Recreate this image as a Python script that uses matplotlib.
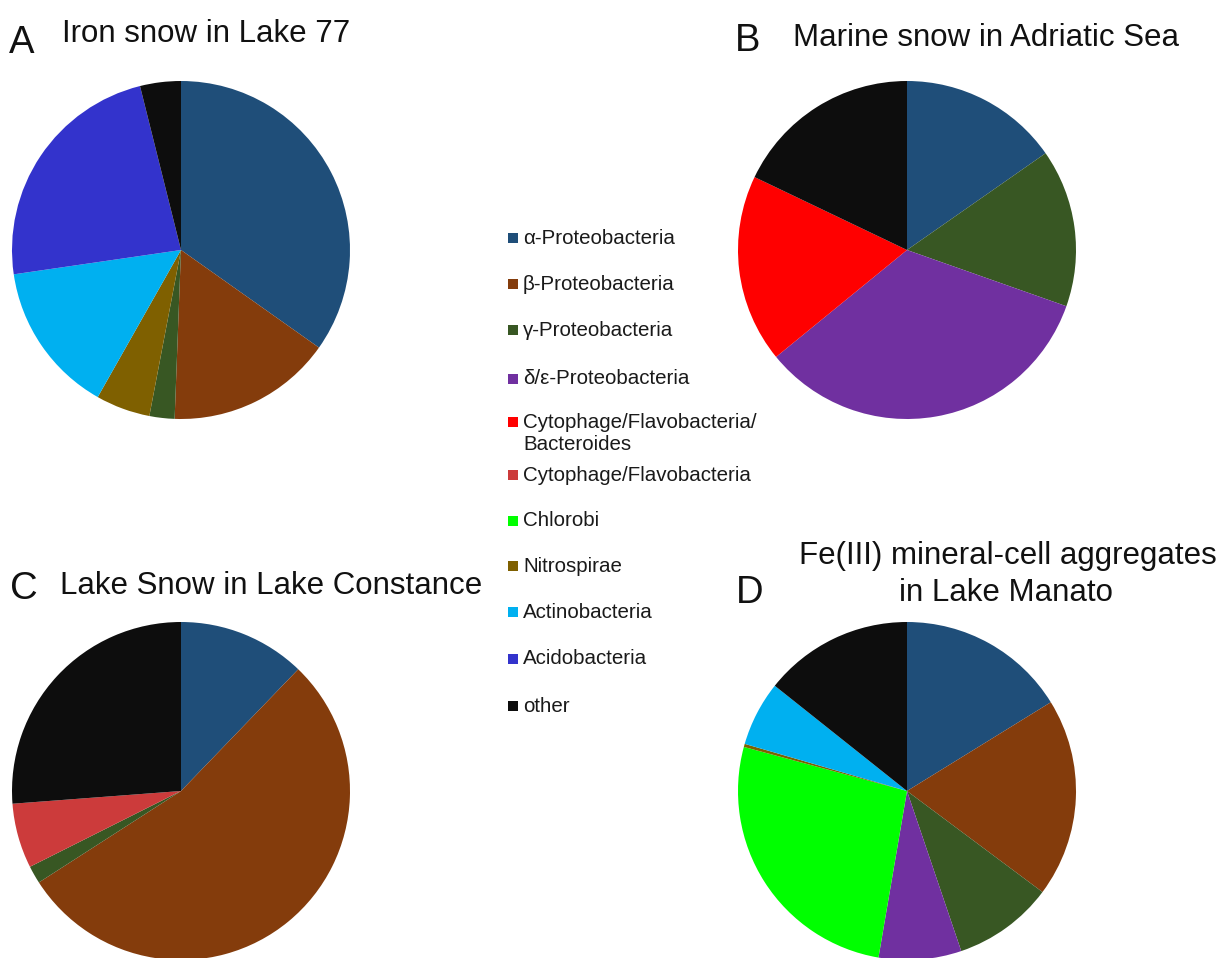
import matplotlib
matplotlib.use("Agg")
import matplotlib.pyplot as plt
from matplotlib.patches import Rectangle

W, H = 1219, 958

# taxa shared by all four panels (legend order) and their colours
taxa = ["α-Proteobacteria", "β-Proteobacteria", "γ-Proteobacteria",
        "δ/ε-Proteobacteria", "Cytophage/Flavobacteria/\nBacteroides",
        "Cytophage/Flavobacteria", "Chlorobi", "Nitrospirae",
        "Actinobacteria", "Acidobacteria", "other"]
taxa_colors = ["#1f4e79", "#843c0c", "#385723", "#7030a0", "#ff0000",
               "#cc3b3b", "#00ff00", "#7f6000", "#00b0f0", "#3333cc", "#0d0d0d"]

# A: iron snow, Lake 77 (%)
lake77_taxa = [0, 1, 2, 7, 8, 9, 10]
lake77_pct = [34.8, 15.8, 2.4, 5.2, 14.5, 23.4, 3.9]

# B: marine snow, Adriatic Sea (%)
adriatic_taxa = [0, 2, 3, 4, 10]
adriatic_pct = [15.3, 15.1, 33.7, 18.0, 17.9]

# C: lake snow, Lake Constance (%)
constance_taxa = [0, 1, 2, 5, 10]
constance_pct = [12.2, 53.7, 1.7, 6.2, 26.2]

# D: Fe(III) mineral-cell aggregates, Lake Manato (%)
manato_taxa = [0, 1, 2, 3, 6, 7, 8, 10]
manato_pct = [16.2, 19.0, 9.6, 7.9, 26.5, 0.3, 6.2, 14.3]

FONT = ["Liberation Sans", "DejaVu Sans"]

fig = plt.figure(figsize=(W / 100, H / 100), dpi=100)
fig.patch.set_facecolor("white")


def fx(x):
    return x / W


def fy(y):
    return 1 - y / H


def pie_at(cx, cy, r, idx, pct):
    # cx, cy, r in pixels, measured from the top-left corner
    ax = fig.add_axes([(cx - r) / W, (H - cy - r) / H, 2 * r / W, 2 * r / H])
    ax.pie(pct, colors=[taxa_colors[i] for i in idx], startangle=90,
           counterclock=False, radius=1.0,
           wedgeprops=dict(linewidth=0, antialiased=True))
    ax.set_xlim(-1, 1)
    ax.set_ylim(-1, 1)
    ax.set_aspect("equal")
    ax.axis("off")
    return ax


pie_at(181, 250, 169, lake77_taxa, lake77_pct)
pie_at(907, 250, 169, adriatic_taxa, adriatic_pct)
pie_at(181, 791, 169, constance_taxa, constance_pct)
pie_at(907, 791, 169, manato_taxa, manato_pct)

# panel letters
for x, y, s in [(9, 53, "A"), (735, 51, "B"), (10, 599, "C"), (736, 603, "D")]:
    fig.text(fx(x), fy(y), s, family=FONT, fontsize=27.5,
             ha="left", va="baseline", color="#111111")

# panel titles
title_kw = dict(family=FONT, fontsize=22.5, va="baseline", color="#111111")
fig.text(fx(62), fy(42), "Iron snow in Lake 77", ha="left", **title_kw)
fig.text(fx(793), fy(46), "Marine snow in Adriatic Sea", ha="left", **title_kw)
fig.text(fx(60), fy(594), "Lake Snow in Lake Constance", ha="left", **title_kw)
fig.text(fx(1008), fy(564), "Fe(III) mineral-cell aggregates", ha="center", **title_kw)
fig.text(fx(1006), fy(601), "in Lake Manato", ha="center", **title_kw)

# legend, drawn by hand so the two-line entry keeps its square on the first line
legend_y = [238, 284, 330, 379, 422, 475, 521, 566, 612, 659, 706]
for name, col, y in zip(taxa, taxa_colors, legend_y):
    fig.patches.append(Rectangle((fx(508), fy(y + 5)), 10 / W, 10 / H,
                                 transform=fig.transFigure, facecolor=col,
                                 edgecolor="none"))
    two_line = "\n" in name
    fig.text(fx(523), fy(y + 11.5) if two_line else fy(y), name, family=FONT,
             fontsize=14.8, ha="left", va="center", color="#1a1a1a",
             linespacing=1.15)

fig.savefig("out.png", dpi=100, facecolor="white")
